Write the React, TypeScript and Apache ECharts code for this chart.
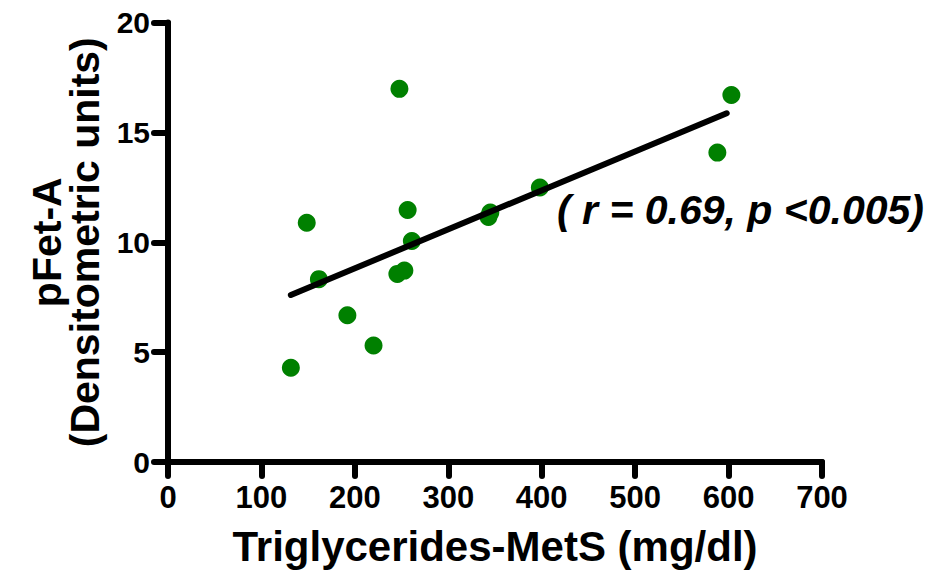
import React, { useEffect, useRef } from "react";
import * as echarts from "echarts";

const triglycerides = [131.5, 148.5, 161.5, 192, 220, 245.5, 247.7, 253, 256.5, 261, 343, 345, 398, 588, 603];
const pFetA = [4.29, 10.89, 8.32, 6.68, 5.3, 8.56, 16.98, 8.71, 11.47, 10.06, 11.15, 11.35, 12.49, 14.08, 16.7];
const fitLine = [
  [131.5, 7.6],
  [598, 15.87],
];
const xTicks = { min: 0, max: 700, interval: 100 };
const yTicks = { min: 0, max: 20, interval: 5 };
const annotation = "( r = 0.69, p <0.005)";
const xTitle = "Triglycerides-MetS (mg/dl)";
const yTitle = "pFet-A\n(Densitometric units)";

const FONT = "'Liberation Sans', Arial, Helvetica, sans-serif";
const NARROW = "'Liberation Sans Narrow', 'Arial Narrow', 'Liberation Sans', Arial, sans-serif";

export default function App() {
  const ref = useRef<HTMLDivElement>(null);
  useEffect(() => {
    if (!ref.current) return;
    const chart = echarts.init(ref.current, null, { renderer: "svg" });
    const axisLine = { show: true, onZero: false, lineStyle: { color: "#000", width: 6, cap: "round" as const } };
    chart.setOption({
      animation: false,
      backgroundColor: "#fff",
      grid: { left: 168, right: 114, top: 22.5, bottom: 116, containLabel: false },
      xAxis: {
        type: "value",
        min: xTicks.min,
        max: xTicks.max,
        interval: xTicks.interval,
        splitLine: { show: false },
        axisLine,
        axisTick: { show: true, length: 14, lineStyle: { color: "#000", width: 6, cap: "round" } },
        axisLabel: { margin: 20, color: "#000", fontSize: 31, fontWeight: "bold", fontFamily: NARROW },
        name: xTitle,
        nameLocation: "middle",
        nameGap: 63,
        nameTextStyle: { color: "#000", fontSize: 42, fontWeight: "bold", fontFamily: FONT },
      },
      yAxis: {
        type: "value",
        min: yTicks.min,
        max: yTicks.max,
        interval: yTicks.interval,
        splitLine: { show: false },
        axisLine,
        axisTick: { show: true, length: 14, lineStyle: { color: "#000", width: 6, cap: "round" } },
        axisLabel: { margin: 18, color: "#000", fontSize: 30, fontWeight: "bold", fontFamily: FONT },
        name: yTitle,
        nameLocation: "middle",
        nameGap: 58,
        nameTextStyle: { color: "#000", fontSize: 41, lineHeight: 38, fontWeight: "bold", fontFamily: FONT, align: "center" },
      },
      series: [
        {
          type: "scatter",
          data: triglycerides.map((x, i) => [x, pFetA[i]]),
          symbol: "circle",
          symbolSize: 18,
          itemStyle: { color: "#008000", opacity: 1 },
          z: 2,
        },
        {
          type: "line",
          data: fitLine,
          showSymbol: false,
          symbol: "none",
          lineStyle: { color: "#000", width: 6, cap: "round" },
          z: 3,
        },
      ],
      graphic: [
        {
          type: "text",
          left: 557,
          top: 189,
          style: {
            text: annotation,
            fill: "#000",
            font: `italic bold 41px ${FONT}`,
          },
        },
      ],
    });
    return () => chart.dispose();
  }, []);
  return (
    <div
      ref={ref}
      style={{ position: "absolute", left: 0, top: 0, width: 936, height: 578, background: "#fff" }}
    />
  );
}
